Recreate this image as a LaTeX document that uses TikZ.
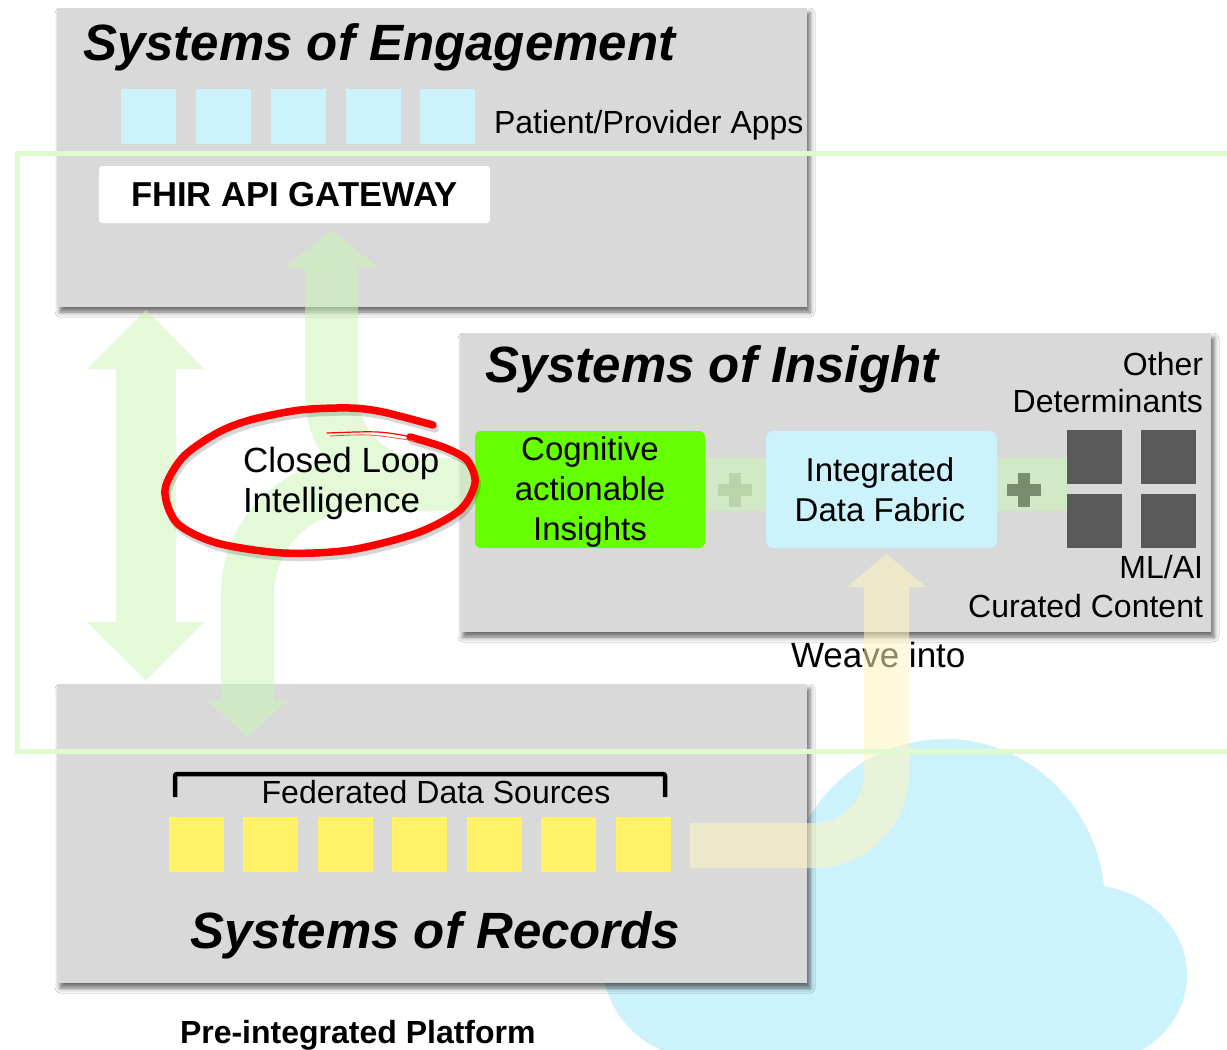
\documentclass[tikz,border=0pt]{standalone}
\usepackage{fontspec}
\setmainfont{Liberation Sans}
\usetikzlibrary{shadows.blur}

\definecolor{panelgray}{RGB}{217,217,217}
\definecolor{appblue}{RGB}{204,242,252}
\definecolor{srcyellow}{RGB}{255,242,102}
\definecolor{insightgreen}{RGB}{102,255,0}
\definecolor{framegreen}{RGB}{224,250,208}
\definecolor{flowgreen}{RGB}{204,245,184}
\definecolor{flowyellow}{RGB}{255,245,190}
\definecolor{modelgray}{RGB}{89,89,89}
\definecolor{plusA}{RGB}{185,212,170}
\definecolor{plusB}{RGB}{120,140,110}

\tikzset{
  panel/.style={fill=panelgray, anchor=north west,
    blur shadow={shadow xshift=3pt, shadow yshift=-5pt, shadow blur radius=5pt, shadow opacity=60}},
  appsq/.style={fill=appblue, anchor=north west, minimum width=55pt, minimum height=55pt},
  srcsq/.style={fill=srcyellow, anchor=north west, minimum width=55pt, minimum height=55pt},
  modelsq/.style={fill=modelgray, anchor=north west, minimum width=55pt, minimum height=54pt},
  title/.style={font=\fontsize{51}{60}\selectfont\bfseries\itshape, anchor=base west},
  label/.style={font=\fontsize{32}{39}\selectfont},
  boxtext/.style={font=\fontsize{33}{40}\selectfont, align=center, anchor=north},
  band/.style={fill=flowgreen, opacity=0.6},
  loopline/.style={line width=7.5pt, line cap=round},
}

\begin{document}
\begin{tikzpicture}[x=1pt, y=-1pt, every node/.style={inner sep=0pt, outer sep=0pt}]
\useasboundingbox (0,0) rectangle (1227,1050);
\clip (0,0) rectangle (1227,1050);
\fill[white] (0,0) rectangle (1227,1050);

% cloud behind the platform
\begin{scope}[fill=appblue]
  \fill (945,905) ellipse [x radius=160pt, y radius=166pt];
  \fill (1087,975) ellipse [x radius=100pt, y radius=90pt];
  \fill (700,960) circle [radius=98pt];
  \fill (700,900) rectangle (1087,1060);
\end{scope}

% panels
\node[panel, minimum width=750pt, minimum height=299pt] (engage) at (57,8) {};
\node[panel, minimum width=751pt, minimum height=299pt] (insight) at (460,333) {};
\node[panel, minimum width=750pt, minimum height=299pt] (records) at (57,684) {};

% Systems of Engagement
\node[title] (engTitle) at (83,60) {Systems of Engagement};
\foreach \i/\x in {1/121,2/196,3/271,4/346,5/420}
  \node[appsq] (app\i) at (\x,89) {};
\node[label, anchor=base west] (appsLbl) at (494,133) {Patient/Provider Apps};
\node[fill=white, rounded corners=3pt, anchor=north west, minimum width=391pt, minimum height=57pt,
      font=\fontsize{34.6}{40}\selectfont\bfseries] (fhir) at (99,166) {FHIR API GATEWAY};

% Systems of Insight
\node[title] (insTitle) at (485,382) {Systems of Insight};
\node[label, anchor=base east] (otherLbl) at (1203,375) {Other};
\node[label, anchor=base east] (detLbl) at (1203,412) {Determinants};
\fill[band] (705,458) rectangle (766,511);
\fill[band] (997,458) rectangle (1067,511);
\node[fill=insightgreen, rounded corners=6pt, anchor=north west, minimum width=230pt, minimum height=117pt] (cog) at (475,431) {};
\node[boxtext] (cogTxt) at (590,437) {Cognitive\\actionable\\Insights};
\node[fill=appblue, rounded corners=8pt, anchor=north west, minimum width=231pt, minimum height=117pt] (fabric) at (766,431) {};
\node[boxtext] (fabTxt) at (880,458) {Integrated\\Data Fabric};
\fill[plusA] (718,484) rectangle (752,496);
\fill[plusA] (729,473) rectangle (741,507);
\fill[plusB] (1007,484) rectangle (1041,496);
\fill[plusB] (1018,473) rectangle (1030,507);
\node[modelsq] (m1) at (1067,430) {};
\node[modelsq] (m2) at (1141,430) {};
\node[modelsq] (m3) at (1067,494) {};
\node[modelsq] (m4) at (1141,494) {};
\node[label, anchor=base east] (mlLbl) at (1203,578) {ML/AI};
\node[label, anchor=base east] (curLbl) at (1203,617) {Curated Content};

% Systems of Records
\draw[line width=4.5pt, rounded corners=2pt] (175,797) -- (175,774) -- (665,774) -- (665,797);
\node[label, anchor=base] (fedLbl) at (436,803) {Federated Data Sources};
\foreach \i/\x in {1/169,2/243,3/318,4/392,5/467,6/541,7/616}
  \node[srcsq] (src\i) at (\x,817) {};
\node[title] (recTitle) at (190,948) {Systems of Records};
\node[font=\fontsize{32}{38}\selectfont\bfseries, anchor=base west] (platform) at (180,1043) {Pre-integrated Platform};

\node[font=\fontsize{35}{42}\selectfont, anchor=base west] (weave) at (791,667) {Weave into};

% flows out of the insight box
\coordinate (loopStart) at (cog.west |- 0,484.5);
\begin{scope}[transparency group, opacity=0.55]
  \draw[flowgreen, line width=53pt, rounded corners=90pt]
    (loopStart) -- (331.5,484.5) -- (331.5,268);
  \fill[flowgreen] (284,268) -- (331.5,230) -- (379,268) -- cycle;
  \draw[flowgreen, line width=53pt, rounded corners=110pt]
    (loopStart) -- (247.5,484.5) -- (247.5,701);
  \fill[flowgreen] (208,701) -- (247.5,738) -- (287,701) -- cycle;
\end{scope}

% two-way exchange between engagement and records
\begin{scope}[transparency group, opacity=0.55]
  \fill[flowgreen] (116,369) rectangle (176,622);
  \fill[flowgreen] (87,369) -- (146,310) -- (204,369) -- cycle;
  \fill[flowgreen] (87,622) -- (146,680) -- (204,622) -- cycle;
\end{scope}

% data sources woven into the fabric
\coordinate (weaveStart) at (690,845.5);
\begin{scope}[transparency group, opacity=0.55]
  \draw[flowyellow, line width=45pt, rounded corners=72pt]
    (weaveStart) -- (886.5,845.5) -- (886.5,587);
  \fill[flowyellow] (847,587) -- (886.5,554) -- (926,587) -- cycle;
\end{scope}

% platform frame
\draw[framegreen, line width=5pt] (1240,153) -- (17,153) -- (17,751) -- (1240,751);

% closed loop, circled by hand
\node[font=\fontsize{35}{40}\selectfont, align=left, anchor=north west] (loopTxt) at (243,447.5) {Closed Loop\\Intelligence};
\def\looppts{(433,425) (383,412) (350,408) (300,410) (250,420) (217,433) (183,457) (165,490)
    (177,523) (217,543) (283,553) (350,550) (417,533) (460,510) (475,483) (467,460) (443,447) (410,437)}
\draw[loopline, black, opacity=0.16, shift={(2pt,-4pt)}] plot[smooth] coordinates {\looppts};
\draw[loopline, red] plot[smooth] coordinates {\looppts};
\draw[red, line width=1.2pt, line cap=round] (412,437) .. controls (380,431) .. (327,433);
\draw[red!70, line width=0.8pt] (415,441) .. controls (370,434) .. (330,436);
\end{tikzpicture}
\end{document}
